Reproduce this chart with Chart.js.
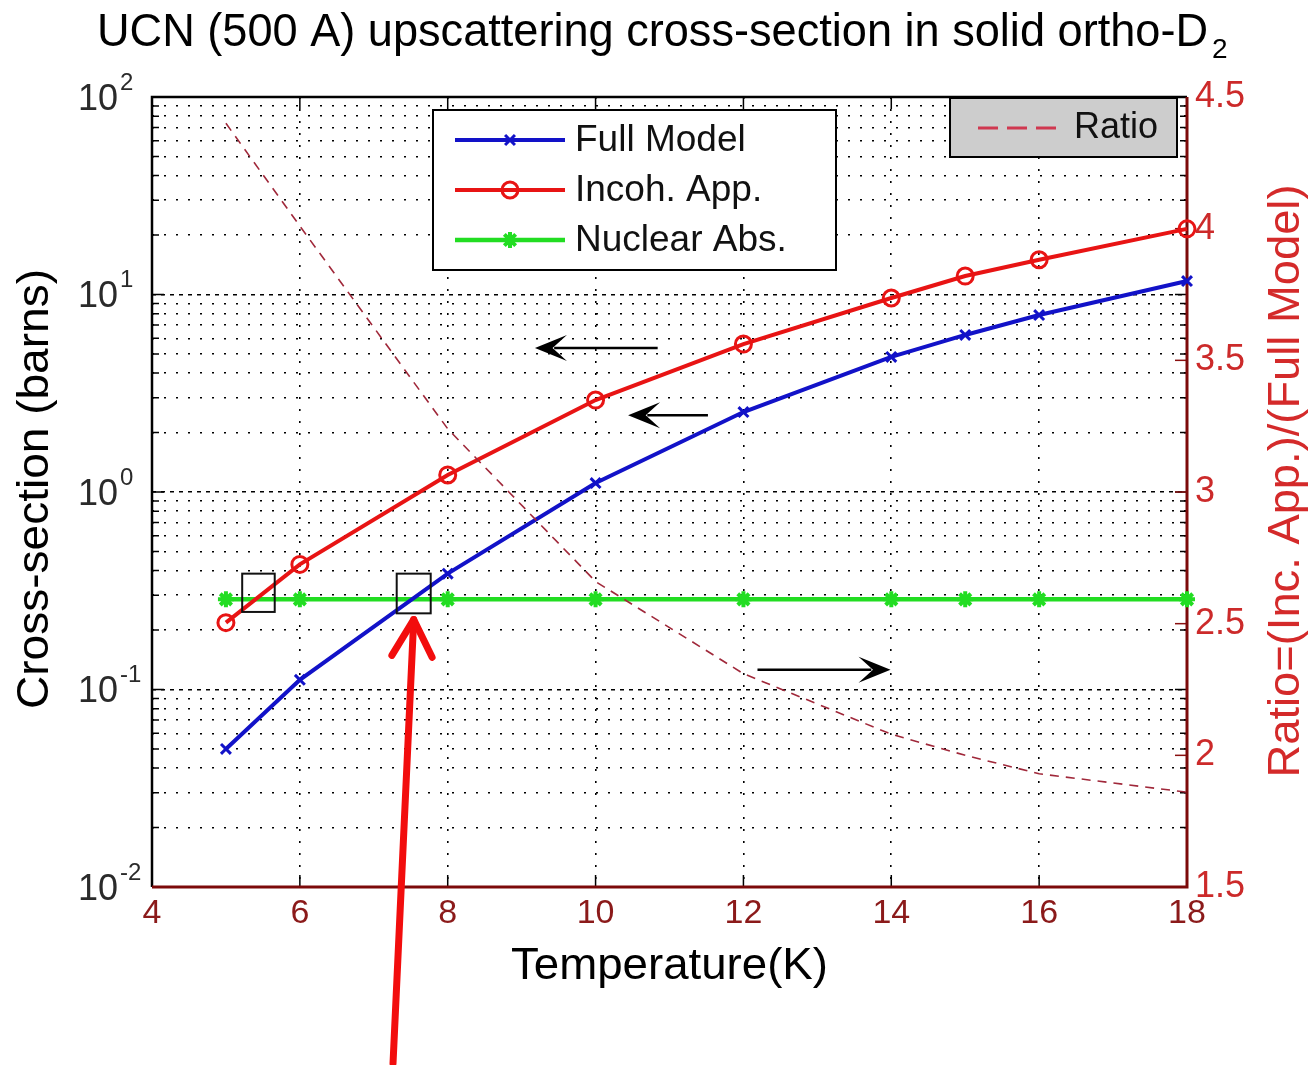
<!DOCTYPE html>
<html>
<head>
  <meta charset="UTF-8">
  <title>UCN upscattering cross-section</title>
  <script src="https://cdn.jsdelivr.net/npm/chart.js"></script>
  <style>
    html, body { margin: 0; padding: 0; background: #fff; }
    canvas { display: block; }
  </style>
</head>
<body>
  <canvas id="chart" width="1314" height="1065"></canvas>
  <script>
    // data
    const temps      = [5, 6, 8, 10, 12, 14, 15, 16, 18];
    const fullModel  = [0.05, 0.112, 0.386, 1.11, 2.54, 4.83, 6.24, 7.87, 11.7];
    const incohApp   = [0.218, 0.43, 1.22, 2.92, 5.61, 9.6, 12.4, 15.0, 21.5];
    const nuclearAbs = [0.286, 0.286, 0.286, 0.286, 0.286, 0.286, 0.286, 0.286, 0.286];
    const ratio      = [4.40, 4.01, 3.24, 2.66, 2.31, 2.08, 2.00, 1.93, 1.86];

    const xTicks = [4, 6, 8, 10, 12, 14, 16, 18];
    const decadeExps = [-2, -1, 0, 1, 2];
    const ratioTicks = [1.5, 2, 2.5, 3, 3.5, 4, 4.5];

    // annotations, in data coordinates
    const boxes = [
      { x0: 5.22, x1: 5.66, y0: 0.247, y1: 0.386 },
      { x0: 7.31, x1: 7.77, y0: 0.243, y1: 0.386 }
    ];
    const blackArrows = [
      { from: [10.84, 5.36], to: [9.18, 5.36] },
      { from: [11.52, 2.45], to: [10.44, 2.45] },
      { from: [12.19, 0.126], to: [13.99, 0.126] }
    ];
    const redArrow = { from: [7.26, 0.00128], to: [7.54, 0.226] };

    const FONT = "'Liberation Sans', Arial, sans-serif";
    Chart.defaults.font.family = FONT;

    const isDecade = v => Math.abs(Math.log10(v) - Math.round(Math.log10(v))) < 1e-6;

    function fitText(ctx, text, x, y, size, width, align, rot) {
      ctx.save();
      ctx.font = size + 'px ' + FONT;
      const w = ctx.measureText(text).width;
      ctx.translate(x, y);
      if (rot) ctx.rotate(rot);
      ctx.scale(width / w, 1);
      ctx.textAlign = align;
      ctx.textBaseline = 'middle';
      ctx.fillText(text, 0, 0);
      ctx.restore();
    }

    function stealthArrow(ctx, x0, y0, x1, y1, len, hw) {
      const a = Math.atan2(y1 - y0, x1 - x0);
      ctx.beginPath();
      ctx.moveTo(x0, y0);
      ctx.lineTo(x1 - Math.cos(a) * len * 0.6, y1 - Math.sin(a) * len * 0.6);
      ctx.stroke();
      ctx.save();
      ctx.translate(x1, y1);
      ctx.rotate(a);
      ctx.beginPath();
      ctx.moveTo(0, 0);
      ctx.lineTo(-len, -hw);
      ctx.lineTo(-len * 0.55, 0);
      ctx.lineTo(-len, hw);
      ctx.closePath();
      ctx.fill();
      ctx.restore();
    }

    const pts = ys => temps.map((t, i) => ({ x: t, y: ys[i] }));

    const framePlugin = {
      id: 'frame',
      beforeDraw(chart) {
        const ctx = chart.ctx;
        ctx.save();
        ctx.fillStyle = '#fff';
        ctx.fillRect(0, 0, chart.width, chart.height);
        ctx.restore();
      },
      beforeDatasetsDraw(chart) {
        const { ctx, chartArea: a, scales } = chart;
        ctx.save();
        // inner tick marks
        ctx.lineWidth = 1.5;
        ctx.strokeStyle = '#000';
        scales.y.ticks.forEach(t => {
          const y = scales.y.getPixelForValue(t.value);
          const len = isDecade(t.value) ? 12 : 7;
          ctx.beginPath();
          ctx.moveTo(a.left, y); ctx.lineTo(a.left + len, y);
          ctx.moveTo(a.right, y); ctx.lineTo(a.right - len, y);
          ctx.stroke();
        });
        scales.x.ticks.forEach(t => {
          const x = scales.x.getPixelForValue(t.value);
          ctx.beginPath();
          ctx.moveTo(x, a.top); ctx.lineTo(x, a.top + 12);
          ctx.moveTo(x, a.bottom); ctx.lineTo(x, a.bottom - 12);
          ctx.stroke();
        });
        ctx.strokeStyle = '#8a1010';
        scales.y2.ticks.forEach(t => {
          const y = scales.y2.getPixelForValue(t.value);
          ctx.beginPath();
          ctx.moveTo(a.right, y); ctx.lineTo(a.right - 12, y);
          ctx.stroke();
        });
        // box
        ctx.lineWidth = 2.5;
        ctx.strokeStyle = '#000';
        ctx.beginPath();
        ctx.moveTo(a.left, a.bottom); ctx.lineTo(a.left, a.top); ctx.lineTo(a.right, a.top);
        ctx.stroke();
        ctx.lineWidth = 3;
        ctx.strokeStyle = '#7c0a0a';
        ctx.beginPath();
        ctx.moveTo(a.left, a.bottom); ctx.lineTo(a.right, a.bottom); ctx.lineTo(a.right, a.top);
        ctx.stroke();
        ctx.restore();
      },
      afterDatasetsDraw(chart) {
        const { ctx, scales } = chart;
        const sx = scales.x, sy = scales.y;
        const ds = chart.data.datasets;
        ctx.save();

        // legend for the left axes
        ctx.fillStyle = '#fff';
        ctx.fillRect(433, 110, 403, 160);
        ctx.lineWidth = 2;
        ctx.strokeStyle = '#000';
        ctx.strokeRect(433, 110, 403, 160);
        [0, 1, 2].forEach((k, i) => {
          const d = ds[k];
          const y = 140 + i * 50;
          ctx.strokeStyle = d.borderColor;
          ctx.lineWidth = d.borderWidth;
          ctx.beginPath(); ctx.moveTo(455, y); ctx.lineTo(565, y); ctx.stroke();
          ctx.fillStyle = d.pointBackgroundColor;
          ctx.lineWidth = d.pointBorderWidth;
          Chart.helpers.drawPoint(ctx, { pointStyle: d.pointStyle, radius: d.pointRadius, borderWidth: d.pointBorderWidth, rotation: 0 }, 510, y);
          ctx.fillStyle = '#111';
          ctx.font = '37px ' + FONT;
          ctx.textAlign = 'left';
          ctx.textBaseline = 'middle';
          ctx.fillText(d.label, 575, y + 1);
        });

        // legend for the ratio
        ctx.fillStyle = '#cdcdcd';
        ctx.fillRect(950, 98, 227, 59);
        ctx.lineWidth = 2;
        ctx.strokeStyle = '#000';
        ctx.strokeRect(950, 98, 227, 59);
        ctx.strokeStyle = '#d03850';
        ctx.lineWidth = 3;
        ctx.setLineDash([20, 9]);
        ctx.beginPath(); ctx.moveTo(978, 128); ctx.lineTo(1064, 128); ctx.stroke();
        ctx.setLineDash([]);
        ctx.fillStyle = '#111';
        ctx.font = '36px ' + FONT;
        ctx.textAlign = 'left';
        ctx.textBaseline = 'middle';
        ctx.fillText(ds[3].label, 1074, 128);

        // boxes
        ctx.strokeStyle = '#111';
        ctx.lineWidth = 2;
        boxes.forEach(b => {
          const x0 = sx.getPixelForValue(b.x0), x1 = sx.getPixelForValue(b.x1);
          const y0 = sy.getPixelForValue(b.y0), y1 = sy.getPixelForValue(b.y1);
          ctx.strokeRect(x0, y1, x1 - x0, y0 - y1);
        });

        // black arrows
        ctx.strokeStyle = '#000';
        ctx.fillStyle = '#000';
        ctx.lineWidth = 2.5;
        blackArrows.forEach(r => {
          stealthArrow(ctx,
            sx.getPixelForValue(r.from[0]), sy.getPixelForValue(r.from[1]),
            sx.getPixelForValue(r.to[0]), sy.getPixelForValue(r.to[1]), 32, 13);
        });

        // red arrow
        const rx0 = sx.getPixelForValue(redArrow.from[0]), ry0 = sy.getPixelForValue(redArrow.from[1]);
        const rx1 = sx.getPixelForValue(redArrow.to[0]), ry1 = sy.getPixelForValue(redArrow.to[1]);
        const ang = Math.atan2(ry1 - ry0, rx1 - rx0);
        ctx.strokeStyle = '#f20d0d';
        ctx.lineWidth = 7;
        ctx.lineCap = 'round';
        ctx.lineJoin = 'round';
        ctx.beginPath(); ctx.moveTo(rx0, ry0); ctx.lineTo(rx1, ry1); ctx.stroke();
        ctx.beginPath();
        ctx.moveTo(rx1 - 42 * Math.cos(ang - 0.5), ry1 - 42 * Math.sin(ang - 0.5));
        ctx.lineTo(rx1, ry1);
        ctx.lineTo(rx1 - 42 * Math.cos(ang + 0.5), ry1 - 42 * Math.sin(ang + 0.5));
        ctx.stroke();
        ctx.restore();
      },
      afterDraw(chart) {
        const { ctx, chartArea: a, scales } = chart;
        ctx.save();
        // left tick labels 10^n
        ctx.fillStyle = '#2a2a2a';
        decadeExps.forEach(e => {
          const y = scales.y.getPixelForValue(Math.pow(10, e));
          ctx.font = '36px ' + FONT;
          ctx.textAlign = 'right';
          ctx.textBaseline = 'middle';
          ctx.fillText('10', a.left - 34, y + 3);
          ctx.font = '24px ' + FONT;
          ctx.textAlign = 'left';
          ctx.fillText(String(e), a.left - 32, y - 14);
        });

        // title
        ctx.fillStyle = '#000';
        fitText(ctx, 'UCN (500 A) upscattering cross-section in solid ortho-D', 97, 33, 46, 1111, 'left');
        ctx.font = '28px ' + FONT;
        ctx.textAlign = 'left';
        ctx.textBaseline = 'middle';
        ctx.fillText('2', 1212, 50);

        // axis titles
        fitText(ctx, 'Temperature(K)', (a.left + a.right) / 2, 967, 44, 317, 'center');
        fitText(ctx, 'Cross-section (barns)', 36, 489, 45, 440, 'center', -Math.PI / 2);
        ctx.fillStyle = '#d42a2a';
        fitText(ctx, 'Ratio=(Inc. App.)/(Full Model)', 1287, 481, 45, 593, 'center', -Math.PI / 2);
        ctx.restore();
      }
    };

    new Chart(document.getElementById('chart'), {
      type: 'line',
      data: {
        datasets: [
          {
            label: 'Full Model', data: pts(fullModel), yAxisID: 'y',
            borderColor: '#1212c8', borderWidth: 4,
            pointStyle: 'crossRot', pointRadius: 7, pointBorderWidth: 3,
            pointBorderColor: '#1212c8', pointBackgroundColor: '#1212c8',
            clip: false, order: 3
          },
          {
            label: 'Incoh. App.', data: pts(incohApp), yAxisID: 'y',
            borderColor: '#e81414', borderWidth: 4,
            pointStyle: 'circle', pointRadius: 8, pointBorderWidth: 3,
            pointBorderColor: '#e81414', pointBackgroundColor: 'rgba(255,255,255,0)',
            clip: false, order: 2
          },
          {
            label: 'Nuclear Abs.', data: pts(nuclearAbs), yAxisID: 'y',
            borderColor: '#22dd22', borderWidth: 4.5,
            pointStyle: 'star', pointRadius: 8, pointBorderWidth: 4,
            pointBorderColor: '#22dd22', pointBackgroundColor: '#22dd22',
            clip: false, order: 4
          },
          {
            label: 'Ratio', data: pts(ratio), yAxisID: 'y2',
            borderColor: '#a0283a', borderWidth: 1.6, borderDash: [9, 7],
            pointRadius: 0, clip: false, order: 1
          }
        ]
      },
      options: {
        responsive: false,
        animation: false,
        devicePixelRatio: 1,
        layout: { padding: { top: 97, left: 0, right: 0, bottom: 0 } },
        plugins: { legend: { display: false }, tooltip: { enabled: false } },
        scales: {
          x: {
            type: 'linear', min: 4, max: 18,
            afterBuildTicks: s => { s.ticks = xTicks.map(v => ({ value: v })); },
            afterFit: s => { s.height = 178; },
            ticks: { color: '#8b1a1a', font: { size: 34 }, padding: 6, maxRotation: 0, callback: v => String(v) },
            grid: {
              drawTicks: false, lineWidth: 1.6,
              color: c => (c.tick && (c.tick.value === 4 || c.tick.value === 18)) ? 'rgba(0,0,0,0)' : '#000'
            },
            border: { display: false, dash: [2, 10] }
          },
          y: {
            type: 'logarithmic', position: 'left', min: 0.01, max: 100,
            afterBuildTicks: s => {
              const t = [];
              decadeExps.forEach(e => {
                for (let m = 1; m <= 9; m++) {
                  const v = m * Math.pow(10, e);
                  if (v <= 100) t.push({ value: v, major: m === 1 });
                }
              });
              s.ticks = t;
            },
            afterFit: s => { s.width = 152; },
            ticks: { display: false },
            grid: {
              drawTicks: false, lineWidth: 1.6,
              color: c => (c.tick && (c.tick.value <= 0.01 + 1e-9 || c.tick.value >= 100 - 1e-9)) ? 'rgba(0,0,0,0)' : '#000'
            },
            border: { display: false, dash: c => (c.tick && isDecade(c.tick.value)) ? [4, 5] : [2, 10] }
          },
          y2: {
            type: 'linear', position: 'right', min: 1.5, max: 4.5,
            afterBuildTicks: s => { s.ticks = ratioTicks.map(v => ({ value: v })); },
            afterFit: s => { s.width = 127; },
            ticks: { color: '#cc2a2a', font: { size: 36 }, padding: 8, callback: v => String(v) },
            grid: { drawOnChartArea: false, drawTicks: false },
            border: { display: false }
          }
        }
      },
      plugins: [framePlugin]
    });
  </script>
</body>
</html>
